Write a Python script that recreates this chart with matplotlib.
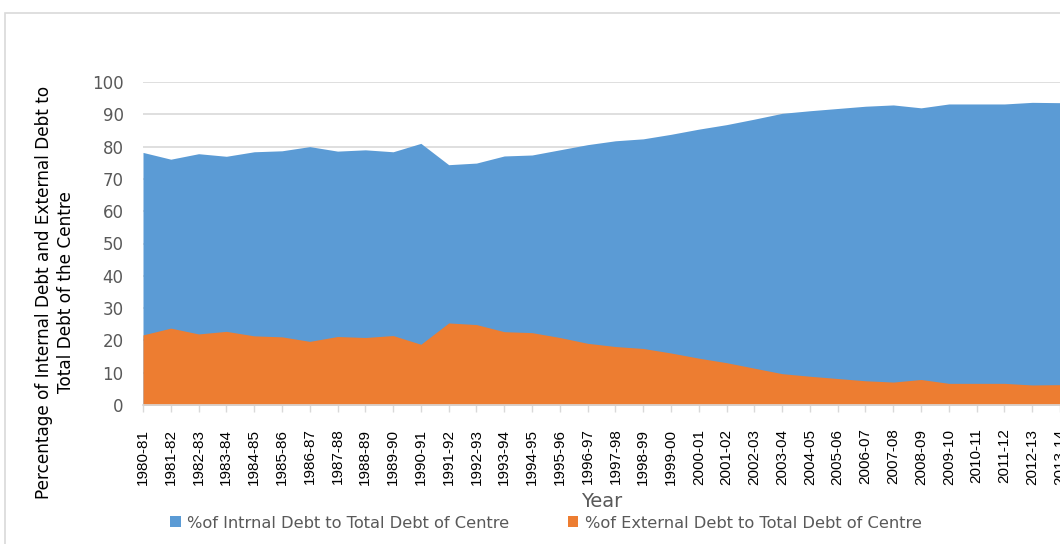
import matplotlib
matplotlib.use("Agg")
import matplotlib.pyplot as plt
from matplotlib.patches import Rectangle

# Share of internal and external debt in total debt of the Centre (%)
years = [
    "1980-81", "1981-82", "1982-83", "1983-84", "1984-85", "1985-86",
    "1986-87", "1987-88", "1988-89", "1989-90", "1990-91", "1991-92",
    "1992-93", "1993-94", "1994-95", "1995-96", "1996-97", "1997-98",
    "1998-99", "1999-00", "2000-01", "2001-02", "2002-03", "2003-04",
    "2004-05", "2005-06", "2006-07", "2007-08", "2008-09", "2009-10",
    "2010-11", "2011-12", "2012-13", "2013-14",
]
internal_pct = [
    78.2, 76.1, 77.8, 77.0, 78.4, 78.7, 80.0, 78.6, 79.0, 78.4,
    81.0, 74.4, 74.9, 77.1, 77.4, 79.0, 80.6, 81.8, 82.4, 83.8,
    85.4, 86.8, 88.5, 90.3, 91.1, 91.8, 92.5, 92.9, 92.0, 93.2,
    93.2, 93.2, 93.7, 93.6,
]
external_pct = [
    21.7, 23.8, 22.0, 22.8, 21.4, 21.1, 19.7, 21.2, 20.9, 21.5,
    18.8, 25.4, 24.9, 22.7, 22.4, 20.9, 19.1, 18.1, 17.5, 16.1,
    14.5, 13.1, 11.4, 9.7, 8.9, 8.2, 7.5, 7.1, 7.9, 6.7,
    6.7, 6.7, 6.2, 6.3,
]

BLUE = "#5B9BD5"
ORANGE = "#ED7D31"
TEXT = "#595959"
GRID = "#D9D9D9"

W, H = 1060, 544
fig = plt.figure(figsize=(W / 100, H / 100), dpi=100)
fig.patch.set_facecolor("white")

# chart frame
fig.add_artist(Rectangle((5 / W, -0.1), 1.2, 1.1 - 13 / H,
                         transform=fig.transFigure, fill=False,
                         edgecolor=GRID, linewidth=1.2))

ax = fig.add_axes([143 / W, 1 - 405 / H, (W - 143) / W, (405 - 82) / H])

x = list(range(len(years)))
ax.fill_between(x, 0, internal_pct, color=BLUE, linewidth=0,
                label="%of Intrnal Debt to Total Debt of Centre")
ax.fill_between(x, 0, external_pct, color=ORANGE, linewidth=0,
                label="%of External Debt to Total Debt of Centre")

ax.set_xlim(0, len(years) - 1)
ax.set_ylim(0, 100)
ax.set_yticks(range(0, 101, 10))
ax.yaxis.grid(True, color=GRID, linewidth=1.2)
ax.set_axisbelow(True)

ax.set_xticks(x)
ax.set_xticklabels(years, rotation=90, fontsize=11, color="black",
                   family="Liberation Sans")
ax.tick_params(axis="x", length=5, width=1, color=GRID, pad=12)
ax.tick_params(axis="y", length=0, labelsize=12, labelcolor=TEXT, pad=14)

for side in ("top", "right", "left"):
    ax.spines[side].set_visible(False)
ax.spines["bottom"].set_color(GRID)
ax.spines["bottom"].set_linewidth(1.2)

ax.set_xlabel("Year", fontsize=14, color=TEXT, labelpad=5)
fig.text(55 / W, 1 - 292 / H,
         "Percentage of Internal Debt and External Debt to\nTotal Debt of the Centre",
         rotation=90, ha="center", va="center", multialignment="center",
         fontsize=12.2, color="black", linespacing=1.35)

ax.legend(loc="center left", bbox_to_anchor=(170 / W, 1 - 523 / H),
          bbox_transform=fig.transFigure, ncol=2, frameon=False,
          fontsize=11.7, labelcolor=TEXT, handlelength=0.65, handleheight=0.65,
          handletextpad=0.4, columnspacing=3.6, borderaxespad=0,
          borderpad=0)

fig.savefig("out.png", dpi=100, facecolor="white")
